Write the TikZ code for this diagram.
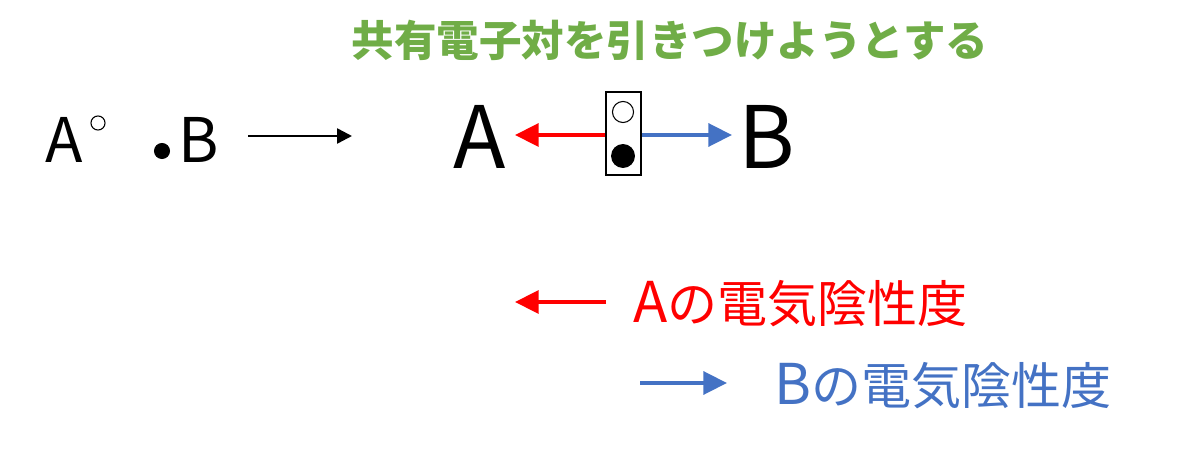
\documentclass[tikz,border=0pt]{standalone}
\usepackage{fontspec}
\setmainfont{Noto Sans CJK JP}
\usetikzlibrary{arrows.meta}

\definecolor{pairgreen}{RGB}{112,173,71}
\definecolor{enred}{RGB}{255,0,0}
\definecolor{enblue}{RGB}{68,114,196}

\newcommand{\latinbig}[1]{{\fontsize{32}{40}\selectfont #1}}

\tikzset{
    letter/.style={inner sep=0pt, font=\fontsize{35}{40}\selectfont},
    bigletter/.style={inner sep=0pt, font=\fontsize{49}{56}\selectfont},
    legend/.style={inner sep=0pt, anchor=base west, font=\fontsize{28.5}{34}\selectfont},
    pull/.style={line width=2.3pt, -{Triangle[length=13.5pt,width=13pt]}},
    electron/.style={circle, draw, line width=0.6pt, inner sep=0pt},
}

\begin{document}
\begin{tikzpicture}[x=0.02cm, y=-0.02cm]
\useasboundingbox (0,0) rectangle (1200,459);

% Title
\node[inner sep=0pt, text=pairgreen, font=\fontsize{24.2}{30}\selectfont\bfseries] (title) at (670,40) {共有電子対を引きつけようとする};

% Atoms before bonding
\node[letter] (atomA) at (64,139.5) {A};
\node[electron, minimum size=8pt] (eA) at (98,123) {};
\node[electron, fill, minimum size=8.5pt] (eB) at (162,151) {};
\node[letter] (atomB) at (199,139.5) {B};

% Reaction arrow
\coordinate (react) at (248,136);
\coordinate (prod) at (352,136);
\draw[line width=1.4pt, -{Triangle[length=8.5pt,width=8.5pt]}] (react) -- (prod);

% Bonded atoms with shared pair
\node[bigletter] (bigA) at (480,137) {A};
\node[bigletter] (bigB) at (767,137) {B};
\node[draw, line width=0.85pt, minimum width=19.8pt, minimum height=47pt, inner sep=0pt] (pair) at (623.5,133.5) {};
\node[electron, minimum size=12pt] (open) at (623,112) {};
\node[electron, fill, minimum size=13pt] (filled) at (623,156) {};

% Pull of each atom
\draw[pull, enred] (pair.west |- 0,135) -- (515,135) coordinate (tipA);
\draw[pull, enblue] (pair.east |- 0,135) -- (732,135) coordinate (tipB);

% Legend
\node[legend, text=enred] (labelA) at (633,322) {\latinbig{A}の電気陰性度};
\coordinate (legA) at (606,302);
\coordinate (legAtip) at (515,302);
\draw[pull, enred] (legA) -- (legAtip);

\node[legend, text=enblue] (labelB) at (774,404) {\latinbig{B}の電気陰性度};
\coordinate (legB) at (640,383);
\coordinate (legBtip) at (727,383);
\draw[pull, enblue] (legB) -- (legBtip);

\end{tikzpicture}
\end{document}
